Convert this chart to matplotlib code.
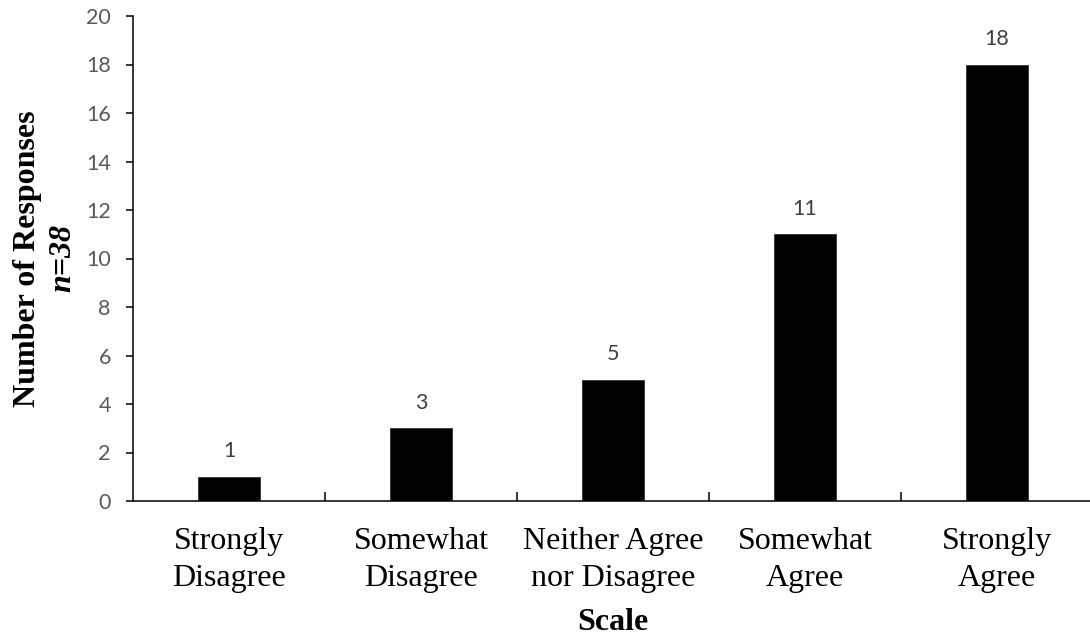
import matplotlib
matplotlib.use("Agg")
import matplotlib.pyplot as plt
import numpy as np

categories = ["Strongly\nDisagree", "Somewhat\nDisagree", "Neither Agree\nnor Disagree",
              "Somewhat\nAgree", "Strongly\nAgree"]
responses = [1, 3, 5, 11, 18]
y_ticks = [0, 2, 4, 6, 8, 10, 12, 14, 16, 18, 20]

W, H = 1090, 636
fig = plt.figure(figsize=(W / 100, H / 100), dpi=100)
left, right, top, bottom = 133, 1093, 16, 501
ax = fig.add_axes([left / W, (H - bottom) / H, (right - left) / W, (bottom - top) / H])

x = np.arange(len(categories))
bars = ax.bar(x, responses, width=0.32, color="black", edgecolor="#333333", linewidth=0.6, zorder=3)

for xi, v in zip(x, responses):
    ax.annotate(str(v), (xi, v), xytext=(0, 11), textcoords="offset points",
                ha="center", va="bottom", fontsize=15.5, family="Lato", color="#404040")

ax.set_xlim(-0.5, len(categories) - 0.5)
ax.set_ylim(0, 20)
ax.set_yticks(y_ticks)
ax.set_yticklabels([str(t) for t in y_ticks], fontsize=15.5, family="Lato", color="#595959")

ax.set_xticks(x)
ax.set_xticklabels(categories, fontsize=23, family="Liberation Serif", color="black", linespacing=1.33)
ax.set_xticks(np.arange(0.5, len(categories) - 0.5, 1.0), minor=True)
ax.tick_params(axis="x", which="major", length=0, pad=19)
ax.tick_params(axis="x", which="minor", direction="in", length=6.5, width=1.1, color="black")
ax.tick_params(axis="y", direction="out", length=5, width=1.1, color="black", pad=11)

for s in ["top", "right"]:
    ax.spines[s].set_visible(False)
for s in ["left", "bottom"]:
    ax.spines[s].set_linewidth(1.1)
    ax.spines[s].set_color("black")

# Axis titles
cy = 1 - (top + bottom) / 2 / H
fig.text(35 / W, cy, "Number of Responses", rotation=90, rotation_mode="anchor",
         ha="center", va="baseline", fontsize=23, family="Liberation Serif", fontweight="bold")
fig.text(70 / W, cy, "n=38", rotation=90, rotation_mode="anchor",
         ha="center", va="baseline", fontsize=23, family="Liberation Serif",
         fontweight="bold", fontstyle="italic")
fig.text((left + right) / 2 / W, (H - 630) / H, "Scale", ha="center", va="baseline",
         fontsize=23, family="Liberation Serif", fontweight="bold")

fig.savefig("out.png", dpi=100)
